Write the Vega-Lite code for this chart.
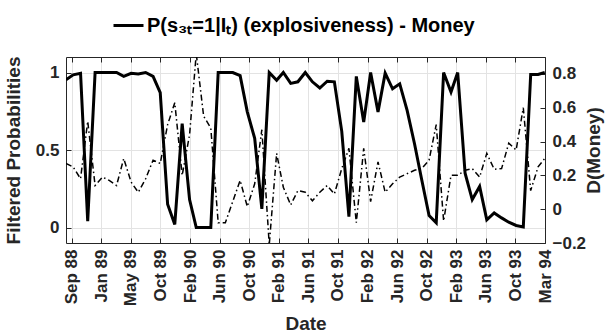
{
  "$schema": "https://vega.github.io/schema/vega-lite/v6.json",
  "width": 479,
  "height": 186,
  "autosize": {"type": "none"},
  "padding": {"left": 66, "top": 57, "right": 66, "bottom": 93},
  "background": "white",
  "config": {
    "font": "Liberation Sans",
    "view": {"stroke": null},
    "axis": {
      "labelFont": "Liberation Sans",
      "labelFontWeight": "bold",
      "labelFontSize": 17,
      "labelColor": "#262626",
      "titleFont": "Liberation Sans",
      "titleFontWeight": "bold",
      "titleFontSize": 19,
      "titleColor": "#262626",
      "domainColor": "#262626",
      "tickColor": "#262626",
      "gridColor": "#e3e3e3",
      "gridWidth": 1
    },
    "legend": {"labelFont": "Liberation Sans"}
  },
  "data": {
    "values": [
      {"date": "1988-09-01", "p": 0.953, "d": 0.27},
      {"date": "1988-10-01", "p": 0.985, "d": 0.25},
      {"date": "1988-11-01", "p": 0.995, "d": 0.18},
      {"date": "1988-12-01", "p": 0.04, "d": 0.52},
      {"date": "1989-01-01", "p": 1.0, "d": 0.14},
      {"date": "1989-02-01", "p": 1.0, "d": 0.19},
      {"date": "1989-03-01", "p": 1.0, "d": 0.17},
      {"date": "1989-04-01", "p": 1.0, "d": 0.14},
      {"date": "1989-05-01", "p": 0.975, "d": 0.3},
      {"date": "1989-06-01", "p": 0.995, "d": 0.16},
      {"date": "1989-07-01", "p": 0.99, "d": 0.1},
      {"date": "1989-08-01", "p": 1.0, "d": 0.18},
      {"date": "1989-09-01", "p": 0.975, "d": 0.29},
      {"date": "1989-10-01", "p": 0.87, "d": 0.27},
      {"date": "1989-11-01", "p": 0.15, "d": 0.5},
      {"date": "1989-12-01", "p": 0.02, "d": 0.63},
      {"date": "1990-01-01", "p": 0.67, "d": 0.2},
      {"date": "1990-02-01", "p": 0.18, "d": 0.44},
      {"date": "1990-03-01", "p": 0.0, "d": 0.92},
      {"date": "1990-04-01", "p": 0.0, "d": 0.55},
      {"date": "1990-05-01", "p": 0.0, "d": 0.48},
      {"date": "1990-06-01", "p": 1.0, "d": -0.08},
      {"date": "1990-07-01", "p": 1.0, "d": -0.08},
      {"date": "1990-08-01", "p": 1.0, "d": 0.045},
      {"date": "1990-09-01", "p": 0.98, "d": 0.17},
      {"date": "1990-10-01", "p": 0.746, "d": 0.015},
      {"date": "1990-11-01", "p": 0.575, "d": 0.15},
      {"date": "1990-12-01", "p": 0.12, "d": 0.47},
      {"date": "1991-01-01", "p": 1.0, "d": -0.21},
      {"date": "1991-02-01", "p": 0.95, "d": 0.33},
      {"date": "1991-03-01", "p": 1.0, "d": 0.13},
      {"date": "1991-04-01", "p": 0.93, "d": 0.025},
      {"date": "1991-05-01", "p": 0.94, "d": 0.11},
      {"date": "1991-06-01", "p": 1.0, "d": 0.1},
      {"date": "1991-07-01", "p": 0.94, "d": 0.05},
      {"date": "1991-08-01", "p": 0.9, "d": 0.1},
      {"date": "1991-09-01", "p": 0.944, "d": 0.14},
      {"date": "1991-10-01", "p": 0.94, "d": 0.09},
      {"date": "1991-11-01", "p": 0.62, "d": 0.24},
      {"date": "1991-12-01", "p": 0.07, "d": 0.36},
      {"date": "1992-01-01", "p": 0.975, "d": -0.08},
      {"date": "1992-02-01", "p": 0.68, "d": 0.36},
      {"date": "1992-03-01", "p": 1.0, "d": 0.045},
      {"date": "1992-04-01", "p": 0.746, "d": 0.28},
      {"date": "1992-05-01", "p": 0.996, "d": 0.1},
      {"date": "1992-06-01", "p": 0.895, "d": 0.15},
      {"date": "1992-07-01", "p": 0.927, "d": 0.19},
      {"date": "1992-08-01", "p": 0.756, "d": 0.21},
      {"date": "1992-09-01", "p": 0.54, "d": 0.23},
      {"date": "1992-10-01", "p": 0.31, "d": 0.24},
      {"date": "1992-11-01", "p": 0.077, "d": 0.29},
      {"date": "1992-12-01", "p": 0.03, "d": 0.5},
      {"date": "1993-01-01", "p": 1.0, "d": -0.07},
      {"date": "1993-02-01", "p": 0.874, "d": 0.2},
      {"date": "1993-03-01", "p": 1.0, "d": 0.2},
      {"date": "1993-04-01", "p": 0.35, "d": 0.23},
      {"date": "1993-05-01", "p": 0.18, "d": 0.24},
      {"date": "1993-06-01", "p": 0.265, "d": 0.19},
      {"date": "1993-07-01", "p": 0.05, "d": 0.33},
      {"date": "1993-08-01", "p": 0.094, "d": 0.236},
      {"date": "1993-09-01", "p": 0.062, "d": 0.24},
      {"date": "1993-10-01", "p": 0.034, "d": 0.39},
      {"date": "1993-11-01", "p": 0.013, "d": 0.35},
      {"date": "1993-12-01", "p": 0.004, "d": 0.6},
      {"date": "1994-01-01", "p": 0.987, "d": 0.11},
      {"date": "1994-02-01", "p": 0.987, "d": 0.25},
      {"date": "1994-03-01", "p": 1.0, "d": 0.3}
    ]
  },
  "layer": [
    {
      "mark": {"type": "line", "strokeWidth": 3, "clip": true},
      "encoding": {
        "x": {
          "field": "date",
          "type": "temporal",
          "scale": {"type": "utc", "domain": [{"year": 1988, "month": 9, "date": 1, "utc": true}, {"year": 1994, "month": 3, "date": 2, "utc": true}]},
          "axis": {
            "orient": "bottom",
            "title": "Date",
            "format": "%b %y",
            "labelAngle": -90,
            "labelAlign": "right",
            "labelBaseline": "middle",
            "labelPadding": 11,
            "tickSize": -5,
            "grid": true,
            "titlePadding": 9,
            "labelOverlap": false,
            "values": [
              {"year": 1988, "month": 9, "date": 25, "utc": true},
              {"year": 1989, "month": 1, "date": 27, "utc": true},
              {"year": 1989, "month": 5, "date": 31, "utc": true},
              {"year": 1989, "month": 10, "date": 2, "utc": true},
              {"year": 1990, "month": 2, "date": 3, "utc": true},
              {"year": 1990, "month": 6, "date": 7, "utc": true},
              {"year": 1990, "month": 10, "date": 9, "utc": true},
              {"year": 1991, "month": 2, "date": 10, "utc": true},
              {"year": 1991, "month": 6, "date": 14, "utc": true},
              {"year": 1991, "month": 10, "date": 16, "utc": true},
              {"year": 1992, "month": 2, "date": 17, "utc": true},
              {"year": 1992, "month": 6, "date": 20, "utc": true},
              {"year": 1992, "month": 10, "date": 22, "utc": true},
              {"year": 1993, "month": 2, "date": 23, "utc": true},
              {"year": 1993, "month": 6, "date": 27, "utc": true},
              {"year": 1993, "month": 10, "date": 29, "utc": true},
              {"year": 1994, "month": 3, "date": 2, "utc": true}
            ]
          }
        },
        "y": {
          "field": "p",
          "type": "quantitative",
          "scale": {"domain": [-0.1, 1.1], "nice": false, "zero": false},
          "axis": {
            "orient": "left",
            "title": "Filtered Probabilities",
            "values": [0, 0.5, 1],
            "format": "~g",
            "tickSize": -5,
            "labelPadding": 12,
            "grid": true,
            "titlePadding": 12
          }
        },
        "color": {
          "datum": "P(s₃ₜ=1|Iₜ) (explosiveness) - Money",
          "type": "nominal",
          "scale": {"range": ["black"]},
          "legend": {
            "title": null,
            "orient": "none",
            "legendX": 46,
            "legendY": -48,
            "symbolType": "stroke",
            "symbolStrokeWidth": 3,
            "symbolSize": 900,
            "labelFontSize": 20,
            "labelFontWeight": "bold",
            "labelColor": "black",
            "labelLimit": 600,
            "labelOffset": 2
          }
        }
      }
    },
    {
      "mark": {"type": "line", "strokeWidth": 1.5, "color": "black", "strokeDash": [6, 3, 1.5, 3], "clip": true},
      "encoding": {
        "x": {
          "field": "date",
          "type": "temporal",
          "axis": {
            "orient": "top",
            "title": null,
            "labels": false,
            "tickSize": -5,
            "grid": false,
            "values": [
              {"year": 1988, "month": 9, "date": 25, "utc": true},
              {"year": 1989, "month": 1, "date": 27, "utc": true},
              {"year": 1989, "month": 5, "date": 31, "utc": true},
              {"year": 1989, "month": 10, "date": 2, "utc": true},
              {"year": 1990, "month": 2, "date": 3, "utc": true},
              {"year": 1990, "month": 6, "date": 7, "utc": true},
              {"year": 1990, "month": 10, "date": 9, "utc": true},
              {"year": 1991, "month": 2, "date": 10, "utc": true},
              {"year": 1991, "month": 6, "date": 14, "utc": true},
              {"year": 1991, "month": 10, "date": 16, "utc": true},
              {"year": 1992, "month": 2, "date": 17, "utc": true},
              {"year": 1992, "month": 6, "date": 20, "utc": true},
              {"year": 1992, "month": 10, "date": 22, "utc": true},
              {"year": 1993, "month": 2, "date": 23, "utc": true},
              {"year": 1993, "month": 6, "date": 27, "utc": true},
              {"year": 1993, "month": 10, "date": 29, "utc": true},
              {"year": 1994, "month": 3, "date": 2, "utc": true}
            ]
          }
        },
        "y": {
          "field": "d",
          "type": "quantitative",
          "scale": {"domain": [-0.2, 0.9], "nice": false, "zero": false},
          "axis": {
            "orient": "right",
            "title": "D(Money)",
            "titleAngle": 270,
            "values": [-0.2, 0, 0.2, 0.4, 0.6, 0.8],
            "format": "~g",
            "tickSize": -5,
            "labelPadding": 12,
            "grid": false,
            "titlePadding": 18
          }
        }
      }
    }
  ],
  "resolve": {"scale": {"y": "independent"}, "axis": {"x": "independent"}}
}
